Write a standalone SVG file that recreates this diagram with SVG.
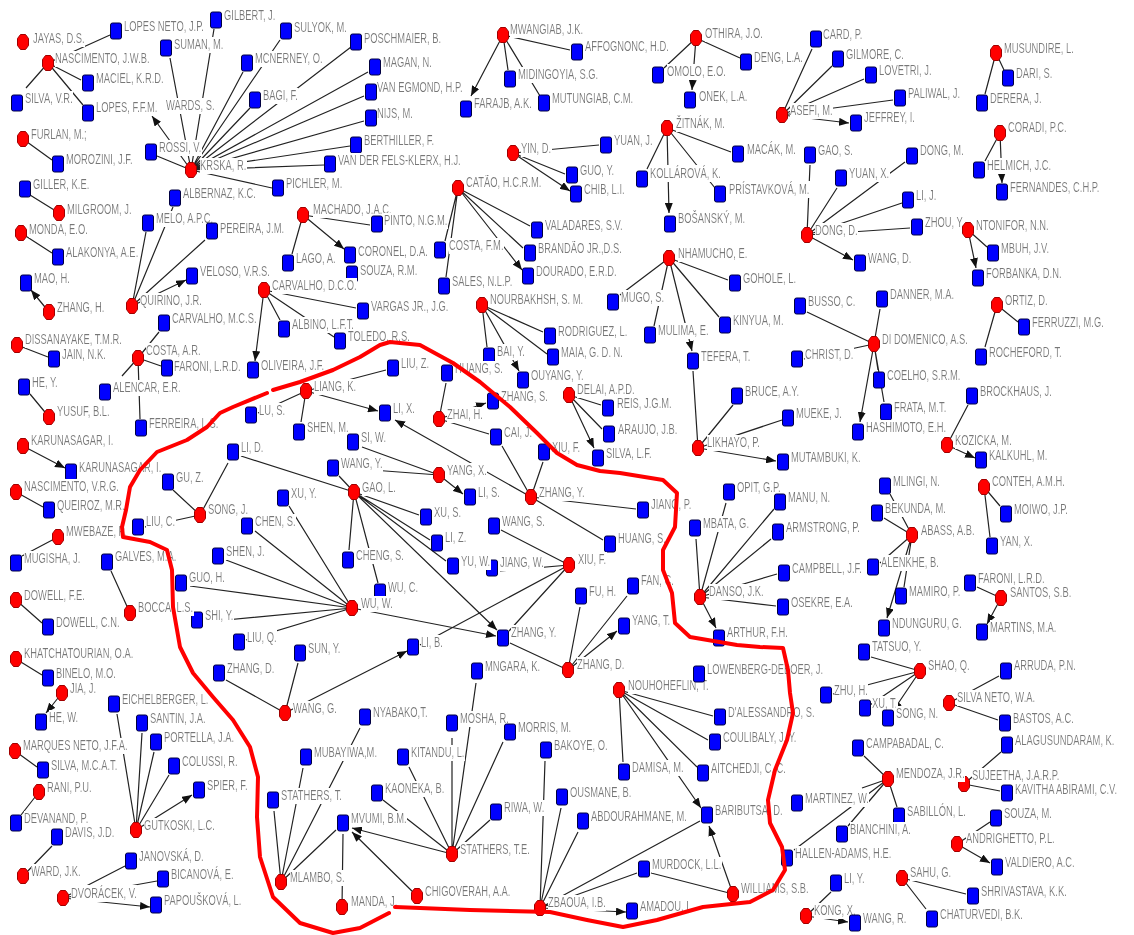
<svg xmlns="http://www.w3.org/2000/svg" xmlns:xlink="http://www.w3.org/1999/xlink" width="1134" height="935" viewBox="0 0 1134 935">
<style>
.e{stroke:#222;stroke-width:1.2;fill:none}
.a{marker-end:url(#ah)}
text{font-family:"Liberation Sans",Arial,sans-serif;font-size:14px;fill:#777777;transform-box:fill-box;transform-origin:0 0;transform:scaleX(.67);filter:url(#bg)}
.curve{fill:none;stroke:#ff0000;stroke-width:4;stroke-linejoin:round;stroke-linecap:round}
</style>
<defs>
<filter id="bg" x="0" y="0.1" width="1" height="0.88"><feFlood flood-color="#ffffff"/><feComposite in="SourceGraphic" operator="over"/></filter>
<marker id="ah" viewBox="0 0 10 8" refX="10" refY="4" markerWidth="10" markerHeight="8" markerUnits="userSpaceOnUse" orient="auto"><path d="M0,0L10,4L0,8z" fill="#111"/></marker>
<polygon id="r" points="-2.5,-7.5 2.5,-7.5 5.5,-3.5 5.5,3.5 2.5,7.5 -2.5,7.5 -5.5,3.5 -5.5,-3.5" fill="#ff0000" stroke="#a00000" stroke-width="1"/>
<rect id="b" x="-5.5" y="-8" width="11" height="16" rx="2" fill="#0000ff" stroke="#000040" stroke-width="1"/>
</defs>
<rect width="1134" height="935" fill="#ffffff"/>
<g id="connectors">
<g class="e a">
<path d="M191 170L170 58M191 170L214 29M191 170L243 72M191 170L280 40M191 170L351 47M191 170L250 108M191 170L368 72M191 170L364 96M191 170L364 121M191 170L350 146M191 170L324 165M191 170L272 188M191 170L157 156M191 170L152 116"/>
<path d="M48 63L110 35M48 63L81 80M48 63L83 105M23 139L52 160M59 213L30 195M21 233L52 253M49 312L31 290"/>
<path d="M132 306L146 232M132 306L173 207M132 306L205 240M132 306L186 280"/>
<path d="M303 215L370 225M303 215L292 254M303 215L344 249"/>
<path d="M264 290L356 308M264 290L280 320M264 290L334 337M264 290L255 361"/>
<path d="M138 358L159 332M138 358L161 366M138 358L140 419M17 345L48 357M49 417L30 394M23 446L65 468"/>
<path d="M503 35L570 50M503 35L508 70M503 35L540 96M503 35L471 96"/>
<path d="M696 38L740 58M696 38L664 68M696 38L692 90"/>
<path d="M667 128L731 152M667 128L647 169M667 128L715 188M667 128L669 213"/>
<path d="M513 153L599 145M513 153L565 174M513 153L570 191"/>
<path d="M458 188L530 226M458 188L445 241M458 188L446 277M458 188L523 248M458 188L522 270"/>
<path d="M782 115L812 49M782 115L832 66M782 115L864 79M782 115L893 100M782 115L849 123"/>
<path d="M996 53L1004 70M996 53L985 94M1000 133L985 161M1000 133L1002 183"/>
<path d="M807 235L810 165M807 235L837 188M807 235L905 162M807 235L902 203M807 235L910 228M807 235L853 260"/>
<path d="M968 230L987 247M968 230L976 268"/>
<path d="M669 258L728 280M669 258L620 295M669 258L654 326M669 258L719 317M669 258L692 351"/>
<path d="M482 305L543 332M482 305L547 354M482 305L487 347M482 305L519 371"/>
<path d="M569 395L601 405M569 395L602 429M569 395L594 448"/>
<path d="M698 448L693 371M698 448L733 405M698 448L782 420M698 448L776 461"/>
<path d="M874 344L880 309M874 344L807 312M874 344L804 359M874 344L878 370M874 344L884 402M874 344L860 422"/>
<path d="M997 305L1018 322M997 305L985 347M947 445L968 405M947 445L975 458"/>
<path d="M306 391L258 413M306 391L301 422M306 391L386 370M306 391L378 411"/>
<path d="M439 419L446 383M439 419L489 434M439 419L486 403"/>
<path d="M439 475L362 447M439 475L463 494"/>
<path d="M531 497L543 462M531 497L502 446M531 497L636 509M531 497L603 540M531 497L395 420"/>
<path d="M569 565L501 530M569 565L500 571M569 565L509 631M569 565L420 645"/>
<path d="M354 492L339 476M354 492L241 456M354 492L349 550M354 492L378 583M354 492L419 515M354 492L430 540M354 492L446 561M354 492L497 630"/>
<path d="M200 515L173 490M200 515L228 463M200 515L145 527"/>
<path d="M352 608L255 531M352 608L289 506M352 608L226 560M352 608L190 586M352 608L205 622M352 608L246 640M352 608L496 636"/>
<path d="M285 713L298 663M285 713L226 680M285 713L407 651"/>
<path d="M568 670L510 643M568 670L580 607M568 670L627 596M568 670L617 631"/>
<path d="M452 854L476 683M452 854L452 738M452 854L503 742M452 854L490 820M452 854L409 767M452 854L383 800M452 854L352 828"/>
<path d="M281 882L274 811M281 882L303 768M281 882L360 728M281 882L336 830M342 907L343 834M417 896L352 832"/>
<path d="M540 908L545 761M540 908L561 808M540 908L578 832M540 908L700 821M540 908L637 873M540 908L626 912"/>
<path d="M733 894L651 873M733 894L709 826"/>
<path d="M619 690L713 716M619 690L708 740M619 690L697 767M619 690L623 762M619 690L701 808"/>
<path d="M700 597L696 539M700 597L726 503M700 597L774 509M700 597L771 539M700 597L777 574M700 597L776 606M700 597L716 628"/>
<path d="M912 535L884 518M912 535L890 494M912 535L880 563M912 535L904 587M912 535L887 618"/>
<path d="M984 487L1000 506M984 487L990 537M1001 598L977 587M1001 598L987 624"/>
<path d="M920 671L871 657M920 671L833 694M920 671L870 705M920 671L893 711"/>
<path d="M949 703L998 720M949 703L999 676M964 784L1001 752M964 784L1000 791M957 844L990 822M957 844L990 863"/>
<path d="M902 878L966 894M902 878L926 909M888 779L864 756M888 779L897 807M888 779L848 826M888 779L794 850M806 916L831 892M806 916L848 922"/>
<path d="M16 492L43 507M58 537L22 556M130 613L111 571M16 600L42 623M16 659L42 675M62 693L46 713"/>
<path d="M136 830L117 714M136 830L142 733M136 830L154 752M136 830L169 775M136 830L192 795"/>
<path d="M15 751L37 767M39 792L21 815M23 876L52 846M63 898L125 866M63 898L157 881M63 898L150 907"/>
</g>
<g class="e">
<path d="M48 63L26 88M138 358L122 376M439 475L372 470M888 779L862 788"/>
</g>
</g>
<g id="nodes">
<g id="n-jayas"><use href="#r" x="23" y="42"/><text x="33" y="43">JAYAS, D.S.</text></g>
<g id="n-lopesneto"><use href="#b" x="116" y="31"/><text x="124" y="31">LOPES NETO, J.P.</text></g>
<g id="n-gilbert"><use href="#b" x="216" y="20"/><text x="224" y="20">GILBERT, J.</text></g>
<g id="n-sulyok"><use href="#b" x="286" y="31"/><text x="294" y="32">SULYOK, M.</text></g>
<g id="n-suman"><use href="#b" x="166" y="48"/><text x="174" y="49">SUMAN, M.</text></g>
<g id="n-mcnerney"><use href="#b" x="247" y="63"/><text x="255" y="63">MCNERNEY, O.</text></g>
<g id="n-poschmaier"><use href="#b" x="356" y="42"/><text x="364" y="43">POSCHMAIER, B.</text></g>
<g id="n-nascjwb"><use href="#r" x="48" y="63"/><text x="55" y="63">NASCIMENTO, J.W.B.</text></g>
<g id="n-maciel"><use href="#b" x="88" y="83"/><text x="96" y="83">MACIEL, K.R.D.</text></g>
<g id="n-silvavr"><use href="#b" x="17" y="103"/><text x="25" y="103">SILVA, V.R.</text></g>
<g id="n-lopesffm"><use href="#b" x="88" y="113"/><text x="96" y="112">LOPES, F.F.M.</text></g>
<g id="n-edwards"><text x="166" y="110">WARDS, S.</text></g>
<g id="n-bagi"><use href="#b" x="255" y="100"/><text x="263" y="100">BAGI, F.</text></g>
<g id="n-magan"><use href="#b" x="375" y="67"/><text x="383" y="67">MAGAN, N.</text></g>
<g id="n-vanegmond"><use href="#b" x="371" y="92"/><text x="377" y="92">VAN EGMOND, H.P.</text></g>
<g id="n-nijs"><use href="#b" x="371" y="118"/><text x="377" y="118">NIJS, M.</text></g>
<g id="n-berthiller"><use href="#b" x="356" y="145"/><text x="364" y="145">BERTHILLER, F.</text></g>
<g id="n-vanderfels"><use href="#b" x="330" y="164"/><text x="338" y="165">VAN DER FELS-KLERX, H.J.</text></g>
<g id="n-rossi"><use href="#b" x="151" y="152"/><text x="159" y="152">ROSSI, V.</text></g>
<g id="n-krska"><use href="#r" x="191" y="170"/><text x="200" y="170">KRSKA, R.</text></g>
<g id="n-pichler"><use href="#b" x="278" y="188"/><text x="286" y="188">PICHLER, M.</text></g>
<g id="n-albernaz"><use href="#b" x="175" y="198"/><text x="183" y="198">ALBERNAZ, K.C.</text></g>
<g id="n-furlan"><use href="#r" x="23" y="139"/><text x="31" y="139">FURLAN, M.;</text></g>
<g id="n-morozini"><use href="#b" x="58" y="164"/><text x="66" y="164">MOROZINI, J.F.</text></g>
<g id="n-giller"><use href="#b" x="25" y="189"/><text x="33" y="189">GILLER, K.E.</text></g>
<g id="n-milgroom"><use href="#r" x="59" y="213"/><text x="67" y="214">MILGROOM, J.</text></g>
<g id="n-monda"><use href="#r" x="21" y="233"/><text x="29" y="234">MONDA, E.O.</text></g>
<g id="n-alakonya"><use href="#b" x="58" y="257"/><text x="66" y="257">ALAKONYA, A.E.</text></g>
<g id="n-mao"><use href="#b" x="26" y="283"/><text x="34" y="283">MAO, H.</text></g>
<g id="n-zhangh"><use href="#r" x="49" y="312"/><text x="57" y="312">ZHANG, H.</text></g>
<g id="n-melo"><use href="#b" x="148" y="223"/><text x="156" y="223">MELO, A.P.C.</text></g>
<g id="n-pereira"><use href="#b" x="212" y="231"/><text x="220" y="233">PEREIRA, J.M.</text></g>
<g id="n-quirino"><use href="#r" x="132" y="306"/><text x="140" y="305">QUIRINO, J.R.</text></g>
<g id="n-veloso"><use href="#b" x="192" y="276"/><text x="200" y="276">VELOSO, V.R.S.</text></g>
<g id="n-machado"><use href="#r" x="303" y="215"/><text x="313" y="214">MACHADO, J.A.C.</text></g>
<g id="n-pinto"><use href="#b" x="377" y="224"/><text x="384" y="225">PINTO, N.G.M.</text></g>
<g id="n-lago"><use href="#b" x="288" y="263"/><text x="296" y="263">LAGO, A.</text></g>
<g id="n-coronel"><use href="#b" x="350" y="255"/><text x="358" y="256">CORONEL, D.A.</text></g>
<g id="n-souzarm"><use href="#b" x="352" y="274"/><text x="360" y="275">SOUZA, R.M.</text></g>
<g id="n-carvdco"><use href="#r" x="264" y="290"/><text x="272" y="290">CARVALHO, D.C.O.</text></g>
<g id="n-vargas"><use href="#b" x="363" y="311"/><text x="371" y="311">VARGAS JR., J.G.</text></g>
<g id="n-albino"><use href="#b" x="284" y="329"/><text x="292" y="329">ALBINO, L.F.T.</text></g>
<g id="n-toledo"><use href="#b" x="340" y="341"/><text x="348" y="341">TOLEDO, R.S.</text></g>
<g id="n-oliveira"><use href="#b" x="253" y="370"/><text x="261" y="370">OLIVEIRA, J.F.</text></g>
<g id="n-carvmcs"><use href="#b" x="164" y="323"/><text x="172" y="323">CARVALHO, M.C.S.</text></g>
<g id="n-costaar"><use href="#r" x="138" y="358"/><text x="146" y="355">COSTA, A.R.</text></g>
<g id="n-faroni1"><use href="#b" x="167" y="368"/><text x="174" y="371">FARONI, L.R.D.</text></g>
<g id="n-alencar"><use href="#b" x="105" y="392"/><text x="113" y="392">ALENCAR, E.R.</text></g>
<g id="n-ferreira"><use href="#b" x="141" y="428"/><text x="149" y="428">FERREIRA, L.S.</text></g>
<g id="n-dissanayake"><use href="#r" x="17" y="345"/><text x="25" y="344">DISSANAYAKE, T.M.R.</text></g>
<g id="n-jain"><use href="#b" x="54" y="359"/><text x="62" y="359">JAIN, N.K.</text></g>
<g id="n-hey"><use href="#b" x="24" y="387"/><text x="32" y="387">HE, Y.</text></g>
<g id="n-yusuf"><use href="#r" x="49" y="417"/><text x="57" y="416">YUSUF, B.L.</text></g>
<g id="n-karunr"><use href="#r" x="23" y="446"/><text x="31" y="445">KARUNASAGAR, I.</text></g>
<g id="n-karunb"><use href="#b" x="71" y="472"/><text x="79" y="472">KARUNASAGAR, I.</text></g>
<g id="n-mwangiab"><use href="#r" x="503" y="35"/><text x="510" y="34">MWANGIAB, J.K.</text></g>
<g id="n-affognonc"><use href="#b" x="577" y="52"/><text x="585" y="51">AFFOGNONC, H.D.</text></g>
<g id="n-midingoyia"><use href="#b" x="510" y="79"/><text x="518" y="79">MIDINGOYIA, S.G.</text></g>
<g id="n-mutungiab"><use href="#b" x="544" y="103"/><text x="552" y="103">MUTUNGIAB, C.M.</text></g>
<g id="n-farajb"><use href="#b" x="466" y="109"/><text x="474" y="108">FARAJB, A.K.</text></g>
<g id="n-othira"><use href="#r" x="696" y="38"/><text x="705" y="38">OTHIRA, J.O.</text></g>
<g id="n-deng"><use href="#b" x="746" y="62"/><text x="754" y="62">DENG, L.A.</text></g>
<g id="n-omolo"><use href="#b" x="658" y="75"/><text x="667" y="76">OMOLO, E.O.</text></g>
<g id="n-onek"><use href="#b" x="690" y="100"/><text x="699" y="101">ONEK, L.A.</text></g>
<g id="n-zitnak"><use href="#r" x="667" y="128"/><text x="676" y="128">ŽITNÁK, M.</text></g>
<g id="n-macak"><use href="#b" x="738" y="154"/><text x="747" y="154">MACÁK, M.</text></g>
<g id="n-kollarova"><use href="#b" x="642" y="179"/><text x="650" y="178">KOLLÁROVÁ, K.</text></g>
<g id="n-pristavkova"><use href="#b" x="720" y="194"/><text x="729" y="194">PRÍSTAVKOVÁ, M.</text></g>
<g id="n-bosansky"><use href="#b" x="670" y="224"/><text x="678" y="223">BOŠANSKÝ, M.</text></g>
<g id="n-yind"><use href="#r" x="513" y="153"/><text x="521" y="153">YIN, D.</text></g>
<g id="n-yuanj"><use href="#b" x="606" y="145"/><text x="614" y="145">YUAN, J.</text></g>
<g id="n-guoy"><use href="#b" x="572" y="175"/><text x="580" y="175">GUO, Y.</text></g>
<g id="n-chib"><use href="#b" x="576" y="194"/><text x="584" y="194">CHIB, L.I.</text></g>
<g id="n-catao"><use href="#r" x="458" y="188"/><text x="466" y="187">CATÃO, H.C.R.M.</text></g>
<g id="n-valadares"><use href="#b" x="537" y="230"/><text x="545" y="230">VALADARES, S.V.</text></g>
<g id="n-costafm"><use href="#b" x="440" y="250"/><text x="449" y="250">COSTA, F.M.</text></g>
<g id="n-sales"><use href="#b" x="444" y="286"/><text x="452" y="286">SALES, N.L.P.</text></g>
<g id="n-brandao"><use href="#b" x="530" y="253"/><text x="538" y="253">BRANDÃO JR.,D.S.</text></g>
<g id="n-dourado"><use href="#b" x="528" y="276"/><text x="536" y="276">DOURADO, E.R.D.</text></g>
<g id="n-card"><use href="#b" x="816" y="39"/><text x="823" y="39">CARD, P.</text></g>
<g id="n-gilmore"><use href="#b" x="838" y="59"/><text x="846" y="59">GILMORE, C.</text></g>
<g id="n-lovetri"><use href="#b" x="871" y="75"/><text x="879" y="75">LOVETRI, J.</text></g>
<g id="n-paliwal"><use href="#b" x="900" y="98"/><text x="908" y="98">PALIWAL, J.</text></g>
<g id="n-jeffrey"><use href="#b" x="856" y="123"/><text x="864" y="122">JEFFREY, I.</text></g>
<g id="n-asefi"><use href="#r" x="782" y="115"/><text x="790" y="115">ASEFI, M.</text></g>
<g id="n-musundire"><use href="#r" x="996" y="53"/><text x="1004" y="53">MUSUNDIRE, L.</text></g>
<g id="n-dari"><use href="#b" x="1008" y="78"/><text x="1016" y="78">DARI, S.</text></g>
<g id="n-derera"><use href="#b" x="982" y="103"/><text x="990" y="103">DERERA, J.</text></g>
<g id="n-coradi"><use href="#r" x="1000" y="133"/><text x="1008" y="132">CORADI, P.C.</text></g>
<g id="n-helmich"><use href="#b" x="979" y="170"/><text x="987" y="170">HELMICH, J.C.</text></g>
<g id="n-fernandes"><use href="#b" x="1002" y="192"/><text x="1010" y="192">FERNANDES, C.H.P.</text></g>
<g id="n-gaos"><use href="#b" x="810" y="155"/><text x="818" y="155">GAO, S.</text></g>
<g id="n-dongm"><use href="#b" x="912" y="156"/><text x="920" y="155">DONG, M.</text></g>
<g id="n-yuanx"><use href="#b" x="841" y="178"/><text x="849" y="178">YUAN, X.</text></g>
<g id="n-lij"><use href="#b" x="908" y="200"/><text x="916" y="200">LI, J.</text></g>
<g id="n-zhouy"><use href="#b" x="917" y="227"/><text x="925" y="227">ZHOU, Y.</text></g>
<g id="n-dongd"><use href="#r" x="807" y="235"/><text x="815" y="235">DONG, D.</text></g>
<g id="n-ntonifor"><use href="#r" x="968" y="230"/><text x="976" y="230">NTONIFOR, N.N.</text></g>
<g id="n-wangd"><use href="#b" x="860" y="263"/><text x="868" y="263">WANG, D.</text></g>
<g id="n-mbuh"><use href="#b" x="993" y="253"/><text x="1001" y="253">MBUH, J.V.</text></g>
<g id="n-forbanka"><use href="#b" x="978" y="278"/><text x="986" y="278">FORBANKA, D.N.</text></g>
<g id="n-nhamucho"><use href="#r" x="669" y="258"/><text x="678" y="258">NHAMUCHO, E.</text></g>
<g id="n-gohole"><use href="#b" x="735" y="283"/><text x="743" y="283">GOHOLE, L.</text></g>
<g id="n-mugo"><use href="#b" x="613" y="302"/><text x="621" y="302">MUGO, S.</text></g>
<g id="n-mulima"><use href="#b" x="650" y="335"/><text x="658" y="335">MULIMA, E.</text></g>
<g id="n-kinyua"><use href="#b" x="725" y="325"/><text x="733" y="325">KINYUA, M.</text></g>
<g id="n-tefera"><use href="#b" x="693" y="361"/><text x="701" y="361">TEFERA, T.</text></g>
<g id="n-nourbakhsh"><use href="#r" x="482" y="305"/><text x="490" y="304">NOURBAKHSH, S. M.</text></g>
<g id="n-rodriguez"><use href="#b" x="550" y="336"/><text x="558" y="336">RODRIGUEZ, L.</text></g>
<g id="n-maia"><use href="#b" x="553" y="357"/><text x="561" y="357">MAIA, G. D. N.</text></g>
<g id="n-bai"><use href="#b" x="489" y="356"/><text x="497" y="356">BAI, Y.</text></g>
<g id="n-ouyang"><use href="#b" x="523" y="380"/><text x="531" y="380">OUYANG, Y.</text></g>
<g id="n-delai"><use href="#r" x="569" y="395"/><text x="577" y="394">DELAI, A.P.D.</text></g>
<g id="n-reis"><use href="#b" x="608" y="408"/><text x="617" y="408">REIS, J.G.M.</text></g>
<g id="n-araujo"><use href="#b" x="609" y="434"/><text x="618" y="434">ARAUJO, J.B.</text></g>
<g id="n-silvalf"><use href="#b" x="598" y="458"/><text x="606" y="458">SILVA, L.F.</text></g>
<g id="n-likhayo"><use href="#r" x="698" y="448"/><text x="707" y="447">LIKHAYO, P.</text></g>
<g id="n-bruce"><use href="#b" x="737" y="396"/><text x="745" y="396">BRUCE, A.Y.</text></g>
<g id="n-mueke"><use href="#b" x="788" y="418"/><text x="796" y="418">MUEKE, J.</text></g>
<g id="n-mutambuki"><use href="#b" x="783" y="462"/><text x="791" y="462">MUTAMBUKI, K.</text></g>
<g id="n-danner"><use href="#b" x="882" y="299"/><text x="890" y="299">DANNER, M.A.</text></g>
<g id="n-busso"><use href="#b" x="800" y="306"/><text x="808" y="306">BUSSO, C.</text></g>
<g id="n-didomenico"><use href="#r" x="874" y="344"/><text x="882" y="344">DI DOMENICO, A.S.</text></g>
<g id="n-christ"><use href="#b" x="797" y="359"/><text x="805" y="359">CHRIST, D.</text></g>
<g id="n-coelho"><use href="#b" x="879" y="380"/><text x="887" y="380">COELHO, S.R.M.</text></g>
<g id="n-frata"><use href="#b" x="886" y="412"/><text x="894" y="412">FRATA, M.T.</text></g>
<g id="n-hashimoto"><use href="#b" x="858" y="432"/><text x="866" y="432">HASHIMOTO, E.H.</text></g>
<g id="n-ortiz"><use href="#r" x="997" y="305"/><text x="1005" y="305">ORTIZ, D.</text></g>
<g id="n-ferruzzi"><use href="#b" x="1024" y="327"/><text x="1032" y="327">FERRUZZI, M.G.</text></g>
<g id="n-rocheford"><use href="#b" x="981" y="357"/><text x="989" y="357">ROCHEFORD, T.</text></g>
<g id="n-brockhaus"><use href="#b" x="972" y="396"/><text x="980" y="396">BROCKHAUS, J.</text></g>
<g id="n-kozicka"><use href="#r" x="947" y="445"/><text x="955" y="445">KOZICKA, M.</text></g>
<g id="n-kalkuhl"><use href="#b" x="981" y="460"/><text x="989" y="460">KALKUHL, M.</text></g>
<g id="n-liang"><use href="#r" x="306" y="391"/><text x="314" y="391">LIANG, K.</text></g>
<g id="n-lus"><use href="#b" x="251" y="415"/><text x="259" y="415">LU, S.</text></g>
<g id="n-shenm"><use href="#b" x="299" y="432"/><text x="307" y="432">SHEN, M.</text></g>
<g id="n-liuz"><use href="#b" x="393" y="368"/><text x="401" y="368">LIU, Z.</text></g>
<g id="n-huangs1"><use href="#b" x="447" y="373"/><text x="455" y="373">HUANG, S.</text></g>
<g id="n-lix"><use href="#b" x="385" y="413"/><text x="393" y="413">LI, X.</text></g>
<g id="n-zhai"><use href="#r" x="439" y="419"/><text x="447" y="419">ZHAI, H.</text></g>
<g id="n-zhangs"><use href="#b" x="493" y="401"/><text x="501" y="401">ZHANG, S.</text></g>
<g id="n-cai"><use href="#b" x="496" y="437"/><text x="504" y="437">CAI, J.</text></g>
<g id="n-xiuf1"><use href="#b" x="544" y="452"/><text x="552" y="452">XIU, F.</text></g>
<g id="n-siw"><use href="#b" x="353" y="442"/><text x="361" y="442">SI, W.</text></g>
<g id="n-lid"><use href="#b" x="233" y="452"/><text x="241" y="452">LI, D.</text></g>
<g id="n-wangy"><use href="#b" x="333" y="468"/><text x="341" y="468">WANG, Y.</text></g>
<g id="n-yangx"><use href="#r" x="439" y="475"/><text x="447" y="475">YANG, X.</text></g>
<g id="n-lis"><use href="#b" x="470" y="497"/><text x="478" y="497">LI, S.</text></g>
<g id="n-zhangy"><use href="#r" x="531" y="497"/><text x="539" y="497">ZHANG, Y.</text></g>
<g id="n-jiangp"><use href="#b" x="643" y="510"/><text x="651" y="509">JIANG, P.</text></g>
<g id="n-huangs2"><use href="#b" x="610" y="544"/><text x="618" y="543">HUANG, S.</text></g>
<g id="n-wangs"><use href="#b" x="494" y="526"/><text x="502" y="526">WANG, S.</text></g>
<g id="n-xiuf"><use href="#r" x="569" y="565"/><text x="578" y="564">XIU, F.</text></g>
<g id="n-jiangw"><use href="#b" x="492" y="568"/><text x="500" y="567">JIANG, W.</text></g>
<g id="n-gaol"><use href="#r" x="354" y="492"/><text x="362" y="492">GAO, L.</text></g>
<g id="n-xus"><use href="#b" x="426" y="517"/><text x="434" y="517">XU, S.</text></g>
<g id="n-liz"><use href="#b" x="437" y="543"/><text x="445" y="542">LI, Z.</text></g>
<g id="n-yuw"><use href="#b" x="453" y="566"/><text x="461" y="566">YU, W.</text></g>
<g id="n-chengs"><use href="#b" x="348" y="560"/><text x="356" y="560">CHENG, S.</text></g>
<g id="n-wuc"><use href="#b" x="380" y="592"/><text x="388" y="592">WU, C.</text></g>
<g id="n-guz"><use href="#b" x="168" y="482"/><text x="176" y="482">GU, Z.</text></g>
<g id="n-songj"><use href="#r" x="200" y="515"/><text x="208" y="514">SONG, J.</text></g>
<g id="n-liuc"><use href="#b" x="138" y="527"/><text x="146" y="526">LIU, C.</text></g>
<g id="n-xuy"><use href="#b" x="283" y="498"/><text x="291" y="498">XU, Y.</text></g>
<g id="n-chens"><use href="#b" x="247" y="526"/><text x="255" y="526">CHEN, S.</text></g>
<g id="n-shenj"><use href="#b" x="218" y="556"/><text x="226" y="556">SHEN, J.</text></g>
<g id="n-guoh"><use href="#b" x="181" y="583"/><text x="189" y="582">GUO, H.</text></g>
<g id="n-shiy"><use href="#b" x="197" y="620"/><text x="205" y="620">SHI, Y.</text></g>
<g id="n-liuq"><use href="#b" x="239" y="642"/><text x="247" y="642">LIU, Q.</text></g>
<g id="n-suny"><use href="#b" x="300" y="653"/><text x="308" y="653">SUN, Y.</text></g>
<g id="n-zhangdb"><use href="#b" x="219" y="673"/><text x="227" y="673">ZHANG, D.</text></g>
<g id="n-wuw"><use href="#r" x="352" y="608"/><text x="361" y="608">WU, W.</text></g>
<g id="n-lib"><use href="#b" x="413" y="647"/><text x="421" y="647">LI, B.</text></g>
<g id="n-zhangyb"><use href="#b" x="503" y="638"/><text x="511" y="637">ZHANG, Y.</text></g>
<g id="n-mngara"><use href="#b" x="477" y="671"/><text x="485" y="671">MNGARA, K.</text></g>
<g id="n-zhangd"><use href="#r" x="568" y="670"/><text x="577" y="669">ZHANG, D.</text></g>
<g id="n-fuh"><use href="#b" x="581" y="596"/><text x="589" y="596">FU, H.</text></g>
<g id="n-fanc"><use href="#b" x="633" y="586"/><text x="641" y="585">FAN, C.</text></g>
<g id="n-yangt"><use href="#b" x="624" y="626"/><text x="632" y="625">YANG, T.</text></g>
<g id="n-wangg"><use href="#r" x="285" y="713"/><text x="293" y="713">WANG, G.</text></g>
<g id="n-nascvrg"><use href="#r" x="16" y="492"/><text x="24" y="491">NASCIMENTO, V.R.G.</text></g>
<g id="n-queiroz"><use href="#b" x="49" y="510"/><text x="57" y="510">QUEIROZ, M.R.</text></g>
<g id="n-mwebaze"><use href="#r" x="58" y="537"/><text x="66" y="536">MWEBAZE, P.</text></g>
<g id="n-mugisha"><use href="#b" x="16" y="563"/><text x="24" y="563">MUGISHA, J.</text></g>
<g id="n-galves"><use href="#b" x="107" y="562"/><text x="115" y="561">GALVES, M.A.</text></g>
<g id="n-bocca"><use href="#r" x="130" y="613"/><text x="138" y="612">BOCCA, L.S.</text></g>
<g id="n-dowellfe"><use href="#r" x="16" y="600"/><text x="24" y="600">DOWELL, F.E.</text></g>
<g id="n-dowellcn"><use href="#b" x="48" y="627"/><text x="56" y="627">DOWELL, C.N.</text></g>
<g id="n-khatch"><use href="#r" x="16" y="659"/><text x="24" y="658">KHATCHATOURIAN, O.A.</text></g>
<g id="n-binelo"><use href="#b" x="48" y="678"/><text x="56" y="678">BINELO, M.O.</text></g>
<g id="n-jia"><use href="#r" x="62" y="693"/><text x="70" y="693">JIA, J.</text></g>
<g id="n-hew"><use href="#b" x="41" y="722"/><text x="49" y="722">HE, W.</text></g>
<g id="n-eichel"><use href="#b" x="114" y="704"/><text x="122" y="704">EICHELBERGER, L.</text></g>
<g id="n-santin"><use href="#b" x="142" y="723"/><text x="150" y="723">SANTIN, J.A.</text></g>
<g id="n-portella"><use href="#b" x="156" y="742"/><text x="164" y="742">PORTELLA, J.A.</text></g>
<g id="n-colussi"><use href="#b" x="174" y="766"/><text x="182" y="766">COLUSSI, R.</text></g>
<g id="n-spier"><use href="#b" x="199" y="790"/><text x="207" y="790">SPIER, F.</text></g>
<g id="n-gutkoski"><use href="#r" x="136" y="830"/><text x="144" y="830">GUTKOSKI, L.C.</text></g>
<g id="n-marques"><use href="#r" x="15" y="751"/><text x="23" y="750">MARQUES NETO, J.F.A.</text></g>
<g id="n-silvamcat"><use href="#b" x="43" y="770"/><text x="51" y="770">SILVA, M.C.A.T.</text></g>
<g id="n-rani"><use href="#r" x="39" y="792"/><text x="47" y="792">RANI, P.U.</text></g>
<g id="n-devanand"><use href="#b" x="16" y="823"/><text x="24" y="823">DEVANAND, P.</text></g>
<g id="n-davis"><use href="#b" x="57" y="837"/><text x="65" y="837">DAVIS, J.D.</text></g>
<g id="n-ward"><use href="#r" x="23" y="876"/><text x="31" y="876">WARD, J.K.</text></g>
<g id="n-janovska"><use href="#b" x="131" y="861"/><text x="139" y="861">JANOVSKÁ, D.</text></g>
<g id="n-bicanova"><use href="#b" x="163" y="879"/><text x="171" y="879">BICANOVÁ, E.</text></g>
<g id="n-papouskova"><use href="#b" x="156" y="905"/><text x="164" y="905">PAPOUŠKOVÁ, L.</text></g>
<g id="n-dvoracek"><use href="#r" x="63" y="898"/><text x="71" y="898">DVORÁCEK, V.</text></g>
<g id="n-statherst"><use href="#b" x="273" y="800"/><text x="281" y="800">STATHERS, T.</text></g>
<g id="n-mubayiwa"><use href="#b" x="306" y="757"/><text x="314" y="757">MUBAYIWA,M.</text></g>
<g id="n-nyabako"><use href="#b" x="365" y="717"/><text x="373" y="717">NYABAKO,T.</text></g>
<g id="n-mlambo"><use href="#r" x="281" y="882"/><text x="290" y="882">MLAMBO, S.</text></g>
<g id="n-mvumi"><use href="#b" x="343" y="823"/><text x="351" y="823">MVUMI, B.M.</text></g>
<g id="n-manda"><use href="#r" x="342" y="907"/><text x="351" y="906">MANDA, J.</text></g>
<g id="n-mosha"><use href="#b" x="452" y="723"/><text x="460" y="723">MOSHA, R.</text></g>
<g id="n-morris"><use href="#b" x="510" y="732"/><text x="518" y="732">MORRIS, M.</text></g>
<g id="n-kitandu"><use href="#b" x="403" y="757"/><text x="411" y="757">KITANDU, L.</text></g>
<g id="n-kaoneka"><use href="#b" x="377" y="793"/><text x="385" y="793">KAONEKA, B.</text></g>
<g id="n-riwa"><use href="#b" x="496" y="812"/><text x="504" y="812">RIWA, W.</text></g>
<g id="n-statherste"><use href="#r" x="452" y="854"/><text x="460" y="854">STATHERS, T.E.</text></g>
<g id="n-chigoverah"><use href="#r" x="417" y="896"/><text x="425" y="896">CHIGOVERAH, A.A.</text></g>
<g id="n-bakoye"><use href="#b" x="546" y="750"/><text x="554" y="750">BAKOYE, O.</text></g>
<g id="n-ousmane"><use href="#b" x="562" y="797"/><text x="570" y="797">OUSMANE, B.</text></g>
<g id="n-abdourahmane"><use href="#b" x="583" y="821"/><text x="591" y="821">ABDOURAHMANE, M.</text></g>
<g id="n-zbaoua"><use href="#r" x="540" y="908"/><text x="548" y="907">ZBAOUA, I.B.</text></g>
<g id="n-amadou"><use href="#b" x="632" y="911"/><text x="640" y="911">AMADOU, L.</text></g>
<g id="n-murdock"><use href="#b" x="644" y="869"/><text x="652" y="869">MURDOCK, L.L.</text></g>
<g id="n-williams"><use href="#r" x="733" y="894"/><text x="741" y="893">WILLIAMS, S.B.</text></g>
<g id="n-baributsa"><use href="#b" x="707" y="815"/><text x="715" y="815">BARIBUTSA, D.</text></g>
<g id="n-damisa"><use href="#b" x="624" y="772"/><text x="632" y="772">DAMISA, M.</text></g>
<g id="n-aitchedji"><use href="#b" x="703" y="773"/><text x="711" y="773">AITCHEDJI, C. C.</text></g>
<g id="n-coulibaly"><use href="#b" x="715" y="742"/><text x="723" y="742">COULIBALY, J. Y.</text></g>
<g id="n-dalessandro"><use href="#b" x="720" y="717"/><text x="728" y="717">D'ALESSANDRO, S.</text></g>
<g id="n-nouhoheflin"><use href="#r" x="619" y="690"/><text x="628" y="690">NOUHOHEFLIN, T.</text></g>
<g id="n-lowenberg"><use href="#b" x="699" y="674"/><text x="707" y="674">LOWENBERG-DEBOER, J.</text></g>
<g id="n-mbata"><use href="#b" x="695" y="528"/><text x="703" y="528">MBATA, G.</text></g>
<g id="n-opit"><use href="#b" x="729" y="492"/><text x="737" y="492">OPIT, G.P.</text></g>
<g id="n-danso"><use href="#r" x="700" y="597"/><text x="709" y="596">DANSO, J.K.</text></g>
<g id="n-manu"><use href="#b" x="780" y="502"/><text x="788" y="502">MANU, N.</text></g>
<g id="n-armstrong"><use href="#b" x="778" y="532"/><text x="786" y="532">ARMSTRONG, P.</text></g>
<g id="n-campbell"><use href="#b" x="784" y="573"/><text x="792" y="573">CAMPBELL, J.F.</text></g>
<g id="n-osekre"><use href="#b" x="783" y="607"/><text x="791" y="607">OSEKRE, E.A.</text></g>
<g id="n-arthur"><use href="#b" x="719" y="638"/><text x="727" y="637">ARTHUR, F.H.</text></g>
<g id="n-mlingi"><use href="#b" x="885" y="486"/><text x="893" y="486">MLINGI, N.</text></g>
<g id="n-bekunda"><use href="#b" x="877" y="513"/><text x="885" y="513">BEKUNDA, M.</text></g>
<g id="n-abass"><use href="#r" x="912" y="535"/><text x="921" y="535">ABASS, A.B.</text></g>
<g id="n-alenkhe"><use href="#b" x="873" y="567"/><text x="881" y="567">ALENKHE, B.</text></g>
<g id="n-mamiro"><use href="#b" x="901" y="596"/><text x="909" y="596">MAMIRO, P.</text></g>
<g id="n-ndunguru"><use href="#b" x="884" y="628"/><text x="892" y="628">NDUNGURU, G.</text></g>
<g id="n-conteh"><use href="#r" x="984" y="487"/><text x="992" y="486">CONTEH, A.M.H.</text></g>
<g id="n-moiwo"><use href="#b" x="1006" y="514"/><text x="1014" y="514">MOIWO, J.P.</text></g>
<g id="n-yanx"><use href="#b" x="992" y="546"/><text x="1000" y="546">YAN, X.</text></g>
<g id="n-faroni2"><use href="#b" x="970" y="583"/><text x="978" y="583">FARONI, L.R.D.</text></g>
<g id="n-santos"><use href="#r" x="1001" y="598"/><text x="1010" y="597">SANTOS, S.B.</text></g>
<g id="n-martins"><use href="#b" x="982" y="632"/><text x="990" y="632">MARTINS, M.A.</text></g>
<g id="n-tatsuo"><use href="#b" x="864" y="652"/><text x="872" y="651">TATSUO, Y.</text></g>
<g id="n-shao"><use href="#r" x="920" y="671"/><text x="928" y="670">SHAO, Q.</text></g>
<g id="n-zhuh"><use href="#b" x="826" y="695"/><text x="834" y="695">ZHU, H.</text></g>
<g id="n-xut"><use href="#b" x="865" y="708"/><text x="872" y="708">XU, T.</text></g>
<g id="n-songn"><use href="#b" x="888" y="718"/><text x="896" y="718">SONG, N.</text></g>
<g id="n-arruda"><use href="#b" x="1006" y="671"/><text x="1014" y="670">ARRUDA, P.N.</text></g>
<g id="n-silvaneto"><use href="#r" x="949" y="703"/><text x="957" y="702">SILVA NETO, W.A.</text></g>
<g id="n-bastos"><use href="#b" x="1005" y="723"/><text x="1013" y="723">BASTOS, A.C.</text></g>
<g id="n-alagu"><use href="#b" x="1007" y="745"/><text x="1015" y="745">ALAGUSUNDARAM, K.</text></g>
<g id="n-sujeetha"><use href="#r" x="964" y="784"/><text x="972" y="780">SUJEETHA, J.A.R.P.</text></g>
<g id="n-kavitha"><use href="#b" x="1007" y="793"/><text x="1015" y="794">KAVITHA ABIRAMI, C.V.</text></g>
<g id="n-souzam"><use href="#b" x="996" y="818"/><text x="1004" y="818">SOUZA, M.</text></g>
<g id="n-andrighetto"><use href="#r" x="957" y="844"/><text x="966" y="843">ANDRIGHETTO, P.L.</text></g>
<g id="n-valdiero"><use href="#b" x="997" y="867"/><text x="1005" y="867">VALDIERO, A.C.</text></g>
<g id="n-sahu"><use href="#r" x="902" y="878"/><text x="910" y="877">SAHU, G.</text></g>
<g id="n-shrivastava"><use href="#b" x="973" y="896"/><text x="981" y="896">SHRIVASTAVA, K.K.</text></g>
<g id="n-chaturvedi"><use href="#b" x="932" y="919"/><text x="940" y="919">CHATURVEDI, B.K.</text></g>
<g id="n-campabadal"><use href="#b" x="858" y="748"/><text x="866" y="748">CAMPABADAL, C.</text></g>
<g id="n-mendoza"><use href="#r" x="888" y="779"/><text x="896" y="778">MENDOZA, J.R.</text></g>
<g id="n-sabillon"><use href="#b" x="899" y="816"/><text x="907" y="816">SABILLÓN, L.</text></g>
<g id="n-martinez"><use href="#b" x="797" y="803"/><text x="805" y="803">MARTINEZ, W.</text></g>
<g id="n-bianchini"><use href="#b" x="842" y="834"/><text x="850" y="834">BIANCHINI, A.</text></g>
<g id="n-hallen"><use href="#b" x="787" y="858"/><text x="795" y="858">HALLEN-ADAMS, H.E.</text></g>
<g id="n-liy"><use href="#b" x="836" y="883"/><text x="844" y="883">LI, Y.</text></g>
<g id="n-kong"><use href="#r" x="806" y="916"/><text x="814" y="915">KONG, X.</text></g>
<g id="n-wangr"><use href="#b" x="855" y="923"/><text x="863" y="923">WANG, R.</text></g>
</g>
<path class="curve" d="M140 470L157 452L187 440L207 427L220 413L233 407L267 393M273 390L300 382L333 370L360 357L380 345L390 342L420 345L453 363L480 382L510 407L537 433L557 453L577 465L600 471L620 473L663 480L677 493L675 527L663 550L663 570L672 593L675 623L690 637L737 645L760 647L783 648L788 670L790 693L793 713L787 740L775 770L768 800L770 823L782 847L785 870L773 890L750 902L703 907L657 920L623 927L587 920L550 912L470 910L395 907M389 913L360 928L333 933L300 923L273 897L260 857L257 817L258 777L250 747L233 720L213 697L193 673L180 647L173 607L172 570L167 550L150 542L123 537L122 527L126 510L130 487L140 470"/>
</svg>
